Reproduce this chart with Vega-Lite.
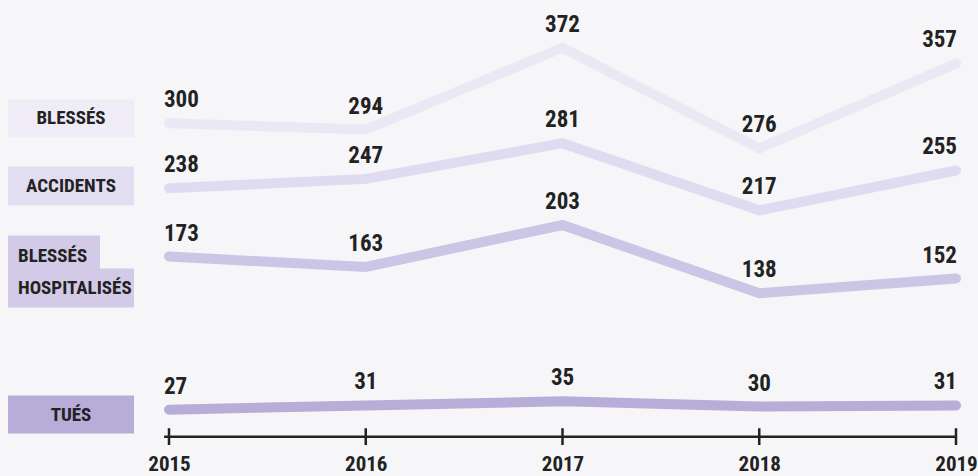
{
  "$schema": "https://vega.github.io/schema/vega-lite/v6.json",
  "width": 787,
  "height": 438,
  "autosize": {"type": "none"},
  "padding": {"left": 169, "top": 0, "right": 22, "bottom": 38},
  "background": "#f6f6f8",
  "config": {
    "view": {"stroke": null},
    "text": {"font": "Roboto Condensed, Roboto, sans-serif", "fontWeight": "bold", "color": "#222222"}
  },
  "data": {"values": [
      {"series": "Blessés", "year": 2015, "value": 300},
      {"series": "Blessés", "year": 2016, "value": 294},
      {"series": "Blessés", "year": 2017, "value": 372},
      {"series": "Blessés", "year": 2018, "value": 276},
      {"series": "Blessés", "year": 2019, "value": 357},
      {"series": "Accidents", "year": 2015, "value": 238},
      {"series": "Accidents", "year": 2016, "value": 247},
      {"series": "Accidents", "year": 2017, "value": 281},
      {"series": "Accidents", "year": 2018, "value": 217},
      {"series": "Accidents", "year": 2019, "value": 255},
      {"series": "Blessés hospitalisés", "year": 2015, "value": 173},
      {"series": "Blessés hospitalisés", "year": 2016, "value": 163},
      {"series": "Blessés hospitalisés", "year": 2017, "value": 203},
      {"series": "Blessés hospitalisés", "year": 2018, "value": 138},
      {"series": "Blessés hospitalisés", "year": 2019, "value": 152},
      {"series": "Tués", "year": 2015, "value": 27},
      {"series": "Tués", "year": 2016, "value": 31},
      {"series": "Tués", "year": 2017, "value": 35},
      {"series": "Tués", "year": 2018, "value": 30},
      {"series": "Tués", "year": 2019, "value": 31}
  ]},
  "layer": [
    {
      "mark": {"type": "line", "strokeWidth": 10, "strokeCap": "round", "strokeJoin": "miter"},
      "encoding": {
        "x": {"field": "year", "type": "quantitative",
              "scale": {"domain": [2015, 2019], "nice": false, "zero": false},
              "axis": {"values": [2015, 2016, 2017, 2018, 2019], "format": "d", "domain": false, "ticks": false, "tickSize": 0, "grid": false,
                       "labelFlush": false,
                       "labelFont": "Roboto Condensed, Roboto, sans-serif", "labelFontWeight": "bold", "labelFontSize": 21, "labelColor": "#222222",
                       "labelPadding": 15, "labelBaseline": "top", "title": null}},
        "y": {"field": "value", "type": "quantitative", "scale": {"domain": [0, 417.5], "nice": false, "zero": false}, "axis": null},
        "color": {"field": "series", "type": "nominal",
                  "scale": {"domain": ["Blessés", "Accidents", "Blessés hospitalisés", "Tués"], "range": ["#ebe8f6", "#e0dbf0", "#cdc5e5", "#b8add8"]},
                  "legend": null}
      }
    },
    {
      "transform": [{"filter": "datum.year == 2015"}],
      "mark": {"type": "text", "fontSize": 23, "align": "left", "baseline": "middle", "dx": -5, "dy": -23},
      "encoding": {"x": {"field": "year", "type": "quantitative"}, "y": {"field": "value", "type": "quantitative"}, "text": {"field": "value"}}
    },
    {
      "transform": [{"filter": "datum.year > 2015 && datum.year < 2019"}],
      "mark": {"type": "text", "fontSize": 23, "align": "center", "baseline": "middle", "dy": -23},
      "encoding": {"x": {"field": "year", "type": "quantitative"}, "y": {"field": "value", "type": "quantitative"}, "text": {"field": "value"}}
    },
    {
      "transform": [{"filter": "datum.year == 2019"}],
      "mark": {"type": "text", "fontSize": 23, "align": "right", "baseline": "middle", "dx": 1, "dy": -23},
      "encoding": {"x": {"field": "year", "type": "quantitative"}, "y": {"field": "value", "type": "quantitative"}, "text": {"field": "value"}}
    },
    {
      "transform": [{"filter": "datum.series == 'Tués'"}],
      "mark": {"type": "rule", "color": "#222222", "strokeWidth": 2.5},
      "encoding": {"x": {"field": "year", "type": "quantitative"}, "y": {"datum": 9.3, "type": "quantitative"}, "y2": {"datum": -6.7}}
    },
    {
      "data": {"values": [{"part": "axis"}]},
      "mark": {"type": "rule", "color": "#222222", "strokeWidth": 2.5},
      "encoding": {"x": {"datum": 2014.975, "type": "quantitative"}, "x2": {"datum": 2019}, "y": {"datum": 1.3, "type": "quantitative"}}
    },
    {
      "data": {"values": [{"label": "BLESSÉS"}]},
      "layer": [
        {"mark": {"type": "rect", "color": "#efecf8"},
         "encoding": {"x": {"datum": 2014.1817, "type": "quantitative"}, "x2": {"datum": 2014.8221}, "y": {"datum": 322.8, "type": "quantitative"}, "y2": {"datum": 286.6}}},
        {"mark": {"type": "text", "fontSize": 19, "baseline": "middle", "align": "center"},
         "encoding": {"x": {"datum": 2014.5019, "type": "quantitative"}, "y": {"datum": 304.7, "type": "quantitative"}, "text": {"field": "label"}}}
      ]
    },
    {
      "data": {"values": [{"label": "ACCIDENTS"}]},
      "layer": [
        {"mark": {"type": "rect", "color": "#e2ddf1"},
         "encoding": {"x": {"datum": 2014.1817, "type": "quantitative"}, "x2": {"datum": 2014.8221}, "y": {"datum": 258.8, "type": "quantitative"}, "y2": {"datum": 221.6}}},
        {"mark": {"type": "text", "fontSize": 19, "baseline": "middle", "align": "center"},
         "encoding": {"x": {"datum": 2014.5019, "type": "quantitative"}, "y": {"datum": 240.2, "type": "quantitative"}, "text": {"field": "label"}}}
      ]
    },
    {
      "data": {"values": [{"label": "BLESSÉS HOSPITALISÉS"}]},
      "layer": [
        {"mark": {"type": "rect", "color": "#d2cae7"},
         "encoding": {"x": {"datum": 2014.1817, "type": "quantitative"}, "x2": {"datum": 2014.6493}, "y": {"datum": 193.0, "type": "quantitative"}, "y2": {"datum": 161.0}}},
        {"mark": {"type": "rect", "color": "#d2cae7"},
         "encoding": {"x": {"datum": 2014.1817, "type": "quantitative"}, "x2": {"datum": 2014.8221}, "y": {"datum": 161.5, "type": "quantitative"}, "y2": {"datum": 124.5}}},
        {"mark": {"type": "text", "fontSize": 19, "baseline": "middle", "align": "left", "lineBreak": " ", "lineHeight": 32},
         "encoding": {"x": {"datum": 2014.2325, "type": "quantitative"}, "y": {"datum": 173.7, "type": "quantitative"}, "text": {"field": "label"}}}
      ]
    },
    {
      "data": {"values": [{"label": "TUÉS"}]},
      "layer": [
        {"mark": {"type": "rect", "color": "#b8acd8"},
         "encoding": {"x": {"datum": 2014.1817, "type": "quantitative"}, "x2": {"datum": 2014.8221}, "y": {"datum": 40.4, "type": "quantitative"}, "y2": {"datum": 4.2}}},
        {"mark": {"type": "text", "fontSize": 19, "baseline": "middle", "align": "center"},
         "encoding": {"x": {"datum": 2014.5019, "type": "quantitative"}, "y": {"datum": 22.3, "type": "quantitative"}, "text": {"field": "label"}}}
      ]
    }
  ]
}
